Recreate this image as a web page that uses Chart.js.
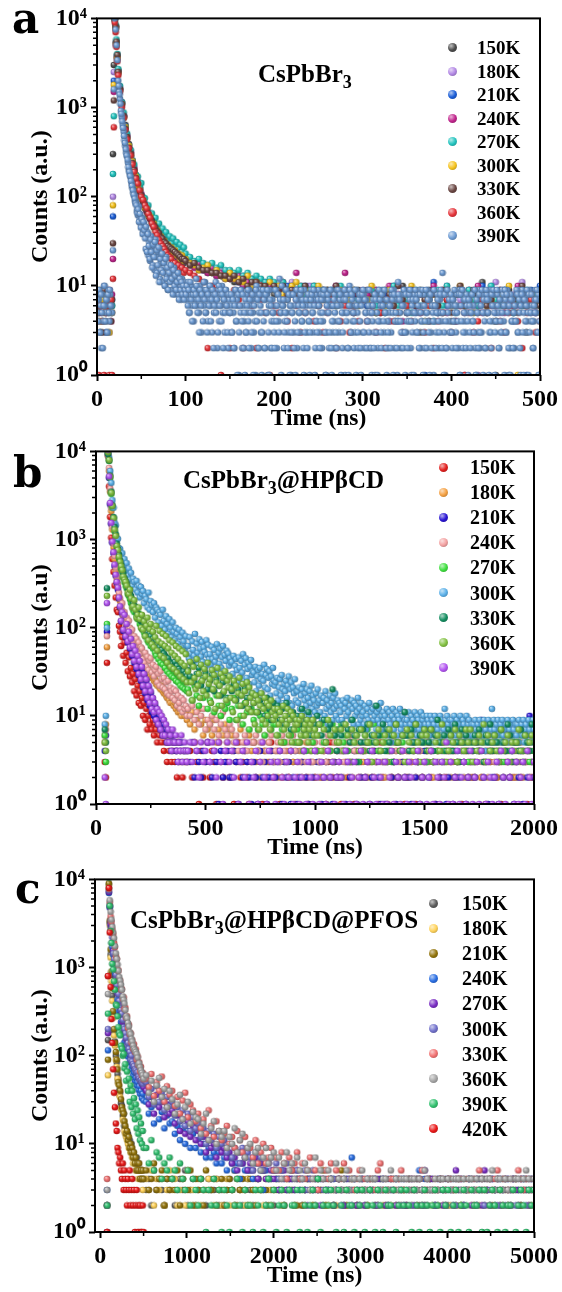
<!DOCTYPE html>
<html><head><meta charset="utf-8">
<script src="https://cdn.jsdelivr.net/npm/chart.js@4.4.0/dist/chart.umd.min.js"></script>
<style>
html,body{margin:0;padding:0;background:#fff}
body{width:562px;height:1292px;position:relative;overflow:hidden}
canvas{position:absolute;left:0}
.t{position:absolute;white-space:nowrap;line-height:1;color:#000;font-family:"Liberation Serif","Times New Roman",serif;font-weight:bold;z-index:2}
.letter{font-family:"DejaVu Serif",serif}
.sub{position:relative;top:0.38em;font-size:0.72em}
.dot{position:absolute;border-radius:50%;z-index:2}
</style></head><body>
<canvas id="ca" width="562" height="440" style="top:0px"></canvas>
<canvas id="cb" width="562" height="436" style="top:433px"></canvas>
<canvas id="cc" width="562" height="436" style="top:861px"></canvas>
<div id="ov"></div>
<script>
// time channels (ns) of the detector: start, end, step
function channels(a, b, step) { const r = []; for (let t = a; t <= b + 1e-9; t += step) r.push(Math.round(t * 100) / 100); return r; }

// ================= DATA =================
// ---- Panel a : CsPbBr3 ----
const labelsA = ['150K','180K','210K','240K','270K','300K','330K','360K','390K'];
const timeA = [...channels(0,16,2), ...channels(17,23,1), ...channels(24,100,2), ...channels(105,500,5)];
const timeA390 = [...channels(0,16,1), ...channels(17,23,1), ...channels(24,100,1), ...channels(101,500,1),
                  ...channels(0.5,15.5,1), ...channels(24.5,99.5,1), ...channels(100.5,499.5,1)];
const a150 = [7,5,3,8,6,4,9,5,6, 6,300,3000,11000,8200,5300,3700,
2600,1550,1150,780,640,450,390,280,250,190,175,130,125,95,96,74,75,60,62,50,52,43,44,36,38,31,34,27,30,26,28,23,25,21,22,19,21,18,20,
17,18,15,17,14,15,13,14,12,13,11,12,10,12,9,11,10,9,11,8,
10,9,7,10,8,9,7,8,10,6,9,7,8,6,9,7,8,5,9,7,
6,8,5,7,9,4,6,7,10,5,8,6,3,7,9,6,5,8,7,4,6,9,5,7,8,6,11,5,7,1,8,6,9,5,7,6,3,8,6,7];
const a180 = [5,8,6,4,7,9,5,3,7, 5,100,2500,10500,7600,5000,3500,
2400,1650,1050,820,560,490,350,320,230,215,160,150,112,108,86,84,68,67,58,56,48,47,40,41,34,36,30,33,28,30,25,28,23,26,21,24,20,22,19,
19,16,17,15,16,14,13,15,12,14,12,11,13,10,11,12,9,10,11,9,
8,10,9,11,7,9,8,10,7,8,9,6,8,10,7,9,6,8,7,9,
7,5,9,6,8,4,7,10,6,5,9,7,8,6,4,9,7,5,10,6,8,7,5,9,6,1,8,7,10,11,5,9,7,8,6,11,7,5,8,6];
const a210 = [6,4,9,5,7,3,8,6,5, 7,60,2000,9800,7900,5400,3800,
2550,1580,1120,790,620,460,380,290,255,195,170,138,122,100,92,78,72,63,60,52,50,44,43,38,36,33,32,29,29,27,27,25,24,22,23,21,21,19,20,
18,17,16,15,16,14,15,13,13,12,13,11,12,11,10,11,9,11,10,9,
9,8,10,8,9,7,10,8,9,7,8,9,6,8,7,9,7,8,6,8,
6,9,5,7,8,6,10,4,7,6,8,5,9,1,7,11,5,8,6,7,4,9,6,8,5,7,10,6,8,5,7,9,6,4,8,7,1,9,5,10];
const a240 = [4,7,5,8,6,5,7,9,4, 8,20,1500,10200,8000,5100,3600,
2500,1620,1080,800,590,480,360,310,240,205,160,145,118,105,88,82,69,66,56,55,46,47,40,40,35,34,31,31,28,27,26,26,23,23,21,22,20,21,19,
18,16,18,15,14,16,13,14,13,12,12,13,10,11,12,10,11,9,10,10,
9,11,8,9,14,10,8,9,7,8,9,7,8,10,7,14,6,9,8,7,
8,6,9,5,7,10,6,8,4,7,9,6,5,8,7,10,6,9,5,7,8,6,1,9,7,10,5,8,6,7,9,5,8,6,10,7,6,8,5,7];
const a270 = [5,6,8,4,7,6,5,8,6, 6,180,800,9500,8500,5800,4000,
2700,1750,1150,880,600,510,370,335,250,230,175,168,128,142,98,96,76,80,62,65,53,58,46,50,40,44,36,40,31,36,30,34,27,31,26,29,24,27,23,
21,19,20,18,17,18,16,17,15,15,14,15,13,14,12,13,12,11,12,11,
10,11,9,10,9,10,8,9,10,8,9,7,9,8,10,7,8,9,7,8,
7,9,6,8,5,7,10,6,8,7,5,9,6,8,7,4,9,6,10,7,5,8,6,9,7,6,8,5,10,7,6,9,8,5,7,6,9,7,8,6];
const a300 = [6,9,4,7,5,8,6,3,7, 5,80,1800,10000,7800,5200,3600,
2450,1560,1090,770,610,450,375,290,250,190,168,135,118,96,92,76,73,62,60,51,50,43,42,37,36,32,32,28,29,26,27,24,25,22,23,20,22,19,20,
18,17,15,16,17,14,15,13,12,14,12,12,11,13,10,11,10,9,11,9,
10,8,9,10,11,8,9,7,8,10,7,9,8,6,9,8,7,9,6,8,
7,10,5,8,6,9,7,5,8,6,10,7,9,4,6,8,7,5,9,6,8,10,6,7,5,9,8,6,7,4,8,6,10,7,1,9,6,8,7,5];
const a330 = [8,5,6,3,9,5,7,6,4, 7,30,1200,9700,8100,5500,3900,
2520,1610,1100,810,580,470,355,305,240,200,162,142,116,104,87,80,70,64,57,54,48,45,41,39,35,34,31,30,28,27,26,25,24,23,22,21,20,20,19,
17,18,16,15,15,14,14,13,13,12,13,11,12,10,11,11,10,10,9,10,
9,10,8,9,8,9,10,7,9,8,7,9,8,10,7,8,9,6,8,7,
9,6,8,5,7,8,6,10,7,5,9,6,8,7,4,8,6,9,7,5,8,10,6,7,9,5,8,6,7,4,9,6,8,7,5,10,6,8,7,6];
const a360 = [6,1,6,4,1,5,6,1,7, 1,12,600,9000,7000,4800,3300,
2300,1500,1000,760,560,440,350,290,230,190,160,140,118,100,92,80,74,64,58,50,46,40,37,33,30,28,26,24,22,21,20,18,18,16,17,15,16,14,15,
14,13,12,11,2,10,9,1,8,2,9,7,2,8,6,2,7,5,1,6,
5,7,4,2,6,3,5,8,4,6,3,5,7,2,4,6,3,5,4,7,
4,6,3,5,2,7,4,5,3,6,4,8,5,3,6,2,4,5,7,3,4,6,1,5,3,4,7,5,2,6,4,3,5,6,4,2,5,7,3,4];
const a390 = [9,5,7,3,6,2,8,4,10,6,5,7,3,9,4,8,6, 5,25,1600,10000,7500,5000,3400,
2000,1500,1250,920,780,640,540,430,370,310, 285,240,200,180,165,140,125,110,102,88,
88,70,62,78,55,60,48,58,40,50, 44,26,35,40,22,31,19,36,25,17, 28,15,33,21,14,24,26,12,18,22,
11,19,16,10,21,13,9,17,12,15, 9,14,11,16,8,12,10,13,8,11, 10,7,12,9,8,11,8,
9,7,11,5,8,10,6,9,4,8, 7,12,6,9,5,10,8,3,7,9, 6,11,5,8,4,7,10,6,9,3, 8,5,7,11,6,2,9,4,8,6, 10,5,7,3,9,6,8,2,7,5,
6,3,8,5,2,9,4,7,6,1, 8,5,9,2,6,4,1,3,8,5, 4,9,6,2,7,5,3,8,1,10, 7,2,5,9,3,1,8,4,2,7, 5,8,1,6,9,2,4,7,5,3,
9,6,2,8,4,12,5,1,7,6, 2,4,9,5,7,3,8,6,1,5, 8,3,6,1,9,2,7,5,3,8, 4,7,2,9,5,6,3,8,4,1, 6,9,5,3,7,1,8,4,6,9,
3,5,8,2,4,7,9,1,3,5, 7,2,6,9,1,3,4,8,2,6, 9,4,3,7,6,8,2,5,9,1, 5,8,2,1,10,6,3,7,5,2, 3,6,9,5,2,8,4,1,7,3,
8,2,5,7,4,9,3,2,6,1, 4,7,3,1,8,5,2,9,4,6, 2,9,6,3,5,7,1,4,2,5, 6,3,8,5,9,2,4,7,1,11, 7,5,2,8,3,6,9,1,3,4,
9,4,7,2,1,3,5,8,4,7, 3,8,5,9,2,4,6,1,8,2, 5,2,9,4,7,8,3,6,5,1, 4,6,3,8,5,2,7,9,4,14, 8,3,1,2,9,5,4,7,3,6,
2,7,4,5,3,8,6,2,9,1, 6,9,2,7,4,3,8,5,1,7, 3,5,8,4,6,9,2,1,5,3, 9,2,6,3,8,1,5,2,7,8, 5,7,3,9,2,6,4,8,1,6,
4,8,5,2,7,3,9,6,4,1, 7,3,9,6,1,2,8,4,7,5, 2,6,4,8,3,9,5,1,6,9, 8,5,7,3,4,6,1,9,5,4, 6,2,4,7,9,5,3,8,1,7,
7,4,9,3,8,5,2,6,10,4,7,3,8,5,9,6,
1750,1400,1100,850,700,590,480,400,340,290, 260,215,190,170,150,132,118,105,95,84,
80,66,72,52,64,45,56,38,52,42, 34,46,24,38,28,20,33,24,16,29, 21,31,13,25,17,27,11,20,15,23,
14,18,10,20,12,16,9,14,11,17, 12,8,15,10,13,9,11,14,7,12, 9,11,8,10,7,9,
8,10,6,9,5,11,7,4,8,9, 6,8,10,5,7,3,9,6,8,4, 11,7,5,9,3,8,6,10,4,7, 9,2,6,8,5,7,3,10,6,9, 4,8,2,7,5,9,6,3,8,5,
5,8,3,7,2,6,9,4,1,8, 3,6,9,4,8,2,5,7,3,6, 9,2,7,5,3,8,1,6,4,9, 4,7,2,8,6,5,3,9,7,2, 8,5,9,3,1,7,6,2,5,4,
2,9,4,6,8,3,7,5,10,6, 7,3,5,9,4,2,8,1,6,3, 5,8,2,4,7,9,3,6,5,8, 9,4,6,1,3,5,7,2,8,4, 3,7,8,5,9,6,2,4,3,7,
6,2,4,7,5,8,9,3,1,6, 8,5,3,9,2,4,6,7,5,3, 2,6,9,4,8,1,5,3,7,9, 7,4,5,2,6,9,3,8,4,5, 4,9,1,6,3,7,8,2,6,8,
9,3,7,5,2,4,6,9,5,2, 5,6,2,8,7,3,1,4,9,7, 3,8,6,4,9,5,2,7,3,6, 6,2,9,7,1,8,4,5,2,4, 8,7,4,3,6,2,9,3,8,5,
2,5,8,9,4,6,7,1,5,9, 7,3,6,2,8,5,4,9,3,6, 4,9,5,7,3,1,8,2,6,4, 9,6,2,5,7,4,3,8,5,2, 5,1,8,4,2,9,6,7,3,8,
3,7,4,9,6,2,5,4,8,1, 8,4,9,3,5,7,2,6,4,7, 6,2,5,8,4,3,9,1,7,5, 2,8,3,6,9,5,7,4,2,9, 7,5,1,4,3,8,6,9,5,3,
4,9,6,2,7,4,3,5,8,6, 9,3,8,5,2,6,1,7,4,2, 5,6,4,9,8,3,7,2,6,8, 3,1,7,4,6,9,5,8,3,5, 8,4,2,6,5,7,9,3,1,4];

// ---- Panel b : CsPbBr3@HPbCD ----
const labelsB = ['150K','180K','210K','240K','270K','300K','330K','360K','390K'];
const timeB = [...channels(40,415,5), ...channels(420,2000,10)];
const timeB300 = [...channels(40,415,5), ...channels(420,2000,4)];
const timeB360 = [...channels(40,415,5), ...channels(420,1000,5), ...channels(1010,2000,10)];
const b150 = [3,2,40,9000, 4000,1800,1050,600,430,300,220,160,150,105, 90,62,78,48,68,40,52,32,46,28, 35,24,30,19,26,17,22,14,19,13,
16,10,14,9,12,7,10,8,11,7, 9,6,8,7,5,8,6,7,5,6, 4,6,5,3,5,4,6,3,4,5, 3,4,2,5,3,4,3,2,4,3, 3,4,
3,4,2,5,3,1,4,2,3,5, 2,4,3,1,5,3,2,4,3,2, 4,1,3,5,2,3,4,2,1,3, 5,2,4,3,1,4,2,3,5,2,
3,4,1,2,5,3,2,4,3,1, 2,5,3,4,2,1,3,5,2,4, 3,2,4,1,3,5,2,3,4,2, 1,4,3,2,5,3,1,4,2,3,
4,2,5,3,2,4,3,1,5,2, 3,1,4,2,3,5,2,4,3,1, 2,4,3,5,1,3,4,2,3,4, 5,2,3,1,4,2,5,3,2,4,
3,4,2,3,5,1,3,4,2,3, 2,3,5,4,2,3,1,4,3,5, 4,2,3,1,5,3,4,2,3,2, 3,5,2,4,3,1,4,2,3];
const b180 = [5,8,60,8800, 6000,3500,2100,1300,820,600,440,350,285,230, 200,170,155,135,120,108,100,92,88,80, 76,70,68,62,58,56,54,50,48,45,
44,40,38,36,35,32,33,30,28,27, 28,25,26,23,22,24,21,20,22,19, 18,19,17,16,17,15,14,16,14,13, 14,12,13,11,12,11,10,12,11,10, 11,9,
10,8,11,7,9,12,8,6,9,7, 8,6,9,5,7,10,6,8,5,7, 6,4,5,3,7,4,5,3,6,4, 5,3,4,2,5,4,3,5,4,3,
4,2,3,5,3,4,2,4,3,5, 3,4,2,3,5,2,4,3,2,4, 2,3,4,3,2,4,3,5,2,3, 4,2,3,14,3,2,4,3,5,2,
3,4,2,3,4,2,3,4,2,3, 2,3,5,2,3,4,2,3,4,2, 4,2,3,4,2,3,5,2,3,4, 3,4,2,3,4,2,3,2,4,3,
2,3,4,2,3,5,2,4,3,2, 4,2,3,4,2,3,4,2,3,4, 3,2,4,3,2,4,3,5,2,3, 2,4,3,2,4,3,2,3,4];
const b210 = [4,6,90,9400, 5000,2500,1500,920,700,500,390,320,270,215, 170,118,145,92,135,78,105,68,88,58, 72,48,60,40,52,34,46,29,40,25,
34,21,29,18,25,15,21,13,18,11, 15,10,13,9,11,8,10,7,9,6, 8,6,7,5,7,5,6,4,6,5, 5,4,4,3,5,4,5,3,4,4, 4,3,
4,3,5,2,4,3,2,4,3,5, 3,2,4,3,1,4,2,3,4,2, 2,4,3,1,3,2,4,3,2,1, 3,2,1,4,2,3,1,2,4,3,
2,3,4,1,3,2,3,1,2,4, 1,2,3,4,2,1,3,2,4,3, 3,1,2,3,4,2,1,3,2,4, 2,4,1,3,2,3,4,1,3,2,
4,2,3,1,2,4,3,2,1,3, 1,3,4,2,3,1,2,4,3,2, 3,2,1,4,2,3,1,2,4,3, 2,4,3,1,3,2,4,3,1,2,
4,1,2,3,2,4,3,1,2,3, 3,2,8,4,9,2,3,1,4,2, 2,3,1,4,2,7,3,2,4,1, 3,2,4,1,3,2,10,3,2];
const b240 = [6,7,80,9000, 6500,3800,2300,1400,900,650,480,380,310,250, 215,170,190,140,150,112,130,95,120,100, 85,95,70,80,62,75,55,68,50,60,
58,44,40,52,36,47,33,42,45,31, 38,28,33,36,24,30,22,32,26,21, 27,20,24,18,25,17,21,19,16,20, 15,19,13,17,14,12,16,11,15,12, 13,10,
12,10,13,9,11,8,10,12,7,9, 8,10,7,9,6,8,11,7,6,8, 7,5,6,4,8,5,6,4,7,5, 5,6,4,5,3,6,4,5,6,3,
4,5,3,6,4,3,5,4,6,4, 5,3,4,6,3,5,4,3,5,4, 3,5,4,3,6,4,3,5,4,3, 4,3,5,4,3,6,4,3,5,4,
5,4,3,5,4,3,6,4,3,5, 3,4,9,3,5,4,3,5,4,6, 4,3,5,4,3,6,4,3,5,3, 5,4,3,6,4,3,5,4,3,4,
3,5,4,3,5,4,3,6,4,3, 4,3,6,4,3,5,4,3,5,4, 3,5,4,3,6,4,3,7,4,3, 4,3,5,4,3,4,5,3,4];
const b270 = [6,3,110,9600, 7800,5000,3300,2300,1700,1250,1080,820,740,620, 550,470,430,370,330,300,280,240,230,210, 190,200,160,150,170,135,125,145,110,118,
96,105,88,80,92,72,68,82,62,70, 58,66,52,48,60,44,55,40,50,38, 46,35,42,32,40,30,37,28,34,27, 32,25,30,24,28,22,27,21,25,20, 24,19,
20,26,15,22,17,13,24,16,19,12, 15,20,11,17,13,10,18,12,14,9, 12,16,9,13,10,8,14,11,7,12, 9,11,7,10,8,6,11,9,7,8,
8,6,9,7,5,8,10,6,7,5, 7,5,8,6,4,7,9,5,6,4, 6,8,5,9,7,4,8,6,7,5, 8,5,6,4,7,9,5,6,3,7,
4,6,7,5,3,8,5,4,6,7, 5,4,7,3,6,5,8,4,5,6, 3,6,4,7,5,4,6,8,5,3, 6,5,3,7,4,6,5,4,8,5,
4,7,5,3,6,8,4,5,3,6, 5,3,7,4,6,5,3,8,4,5, 7,4,5,6,3,5,8,4,6,5, 3,5,6,4,7,5,3,6,4];
const b300 = [8,10,100,9500, 8500,6000,4400,2800,2300,1550,1450,1000,1020,800, 780,620,700,500,600,430,540,390,470,350, 420,300,360,330,270,340,250,300,220,290,
240,260,190,230,210,170,250,160,200,180, 150,190,130,170,160,115,150,140,105,160, 120,95,135,110,85,125,100,78,115,90, 72,100,85,66,95,78,60,88,70,55, 80,62,
62,45,78,51,40,70,56,48,85,43,66,52,38,74,58,47,69,41,60,53,36,72,49,64,44,
50,38,61,44,33,56,41,47,65,30,52,39,58,35,46,62,32,49,42,55,29,51,37,45,40,
41,30,48,26,37,44,33,24,46,35,28,42,31,50,25,38,45,27,34,40,23,36,43,29,32,
31,24,36,19,28,33,22,35,26,18,30,25,38,21,29,34,20,27,32,17,28,23,35,25,22,
24,18,27,15,21,26,17,29,20,14,23,19,25,16,22,28,14,20,24,13,21,18,26,15,19,
19,14,21,12,17,20,11,23,15,18,13,20,16,10,19,14,22,12,17,15,11,18,13,20,14,
15,11,17,9,14,16,10,19,12,15,8,13,17,11,14,9,16,12,18,10,13,15,9,14,11,
13,9,15,8,12,14,10,16,11,7,13,9,15,12,8,14,10,13,11,16,8,12,9,14,10,
11,8,13,7,10,12,9,14,8,11,6,12,9,10,13,7,11,9,12,8,14,10,7,11,9,
10,7,12,6,9,11,8,5,10,12,7,9,8,11,6,10,9,12,7,8,10,6,11,9,8,
9,6,11,7,8,10,5,9,7,11,8,6,10,9,7,8,11,5,9,10,6,8,7,10,9,
8,6,10,7,9,5,8,10,6,9,7,8,5,10,9,6,8,7,12,9,6,10,8,7,9,
7,9,5,8,10,6,7,9,4,8,6,10,7,5,9,8,6,7,10,5,8,9,6,7,8,
6,8,5,9,7,4,8,6,9,5,7,8,6,9,4,7,8,5,9,6,8,7,12,5,9,
7,5,8,6,9,4,7,8,5,9,6,7,4,8,6,9,5,7,8,6,4,9,7,5,8,
6,8,5,9,7,4,8,6,9,5,7,8,6,4,9,7,5,8,6,9,7];
const b330 = [7,5,280,9300, 7900,5300,3500,2450,1800,1400,1150,900,780,680, 580,520,460,420,365,340,315,280,255,240, 230,210,185,178,172,150,142,138,134,120,
120,108,110,101,95,88,82,85,80,72, 75,68,65,70,64,58,60,53,56,50, 51,48,46,43,45,41,40,38,39,36, 41,35,37,33,34,32,31,30,32,29, 30,28,
33,28,38,24,30,35,22,27,31,20, 25,29,19,26,22,17,24,27,16,21, 19,23,15,20,17,13,21,16,12,18, 14,17,11,15,13,10,16,12,9,14,
11,13,9,12,8,14,10,7,11,9, 10,8,12,7,9,11,6,9,8,10, 8,6,9,5,7,8,20,6,4,7, 6,8,4,7,5,9,6,3,7,5,
7,5,8,4,6,5,13,6,4,8, 4,7,5,6,3,8,5,4,6,11, 6,4,7,5,8,3,6,5,7,4, 5,7,4,6,9,5,3,6,4,7,
6,4,8,5,3,7,5,6,4,5, 4,6,5,7,4,3,6,5,8,4, 6,5,3,7,5,4,8,6,3,5, 5,4,7,3,6,5,4,8,5];
const b360 = [5,4,230,9800, 8000,5200,3400,2400,1750,1300,1100,850,760,640, 560,500,450,380,350,330,300,250,240,270, 215,170,175,205,160,130,140,170,125,100,
140,95,118,80,105,130,72,96,110,65, 90,60,78,105,55,70,92,48,66,85, 45,62,80,40,58,72,36,52,68,34, 48,62,31,44,58,28,40,54,26,37, 50,24,
32,18,41,24,15,36,27,20,44,22,30,16,38,25,19,34,28,17,40,23,
26,14,33,20,29,12,24,35,17,22,30,13,27,19,32,15,25,21,28,16,
20,11,25,15,22,9,18,27,13,17,23,10,19,14,24,12,21,16,11,18,
14,8,17,11,15,7,13,18,9,12,16,8,14,10,13,7,15,11,9,12,
10,6,12,8,11,5,9,13,7,10,8,12,6,9,11,5,10,7,8,9,
8,5,9,6,10,4,7,8,6,9,5,7,8,4,9,6,7,
6,8,4,7,5,9,6,3,7,5, 5,7,4,8,6,3,7,5,6,4, 7,4,6,5,8,3,6,5,7,4, 5,6,3,7,4,6,8,5,4,6, 3,7,5,6,4,8,5,3,6,7,
6,4,7,3,5,6,4,8,5,3, 4,6,5,7,3,6,5,4,7,5, 7,3,5,4,6,5,8,3,6,4, 5,6,4,3,7,4,5,6,3,5, 4,5,7,4,3,6,4,5,6,3];
const b390 = [2,1,190,10500, 5200,2600,1550,950,720,520,400,330,285,220, 175,120,150,95,140,80,110,70,90,60, 75,50,62,42,55,36,48,30,42,26,
36,22,30,19,26,16,22,14,19,12, 16,11,14,9,12,8,11,7,10,6, 9,6,8,5,7,5,6,4,7,5, 5,6,4,3,5,4,6,3,4,5, 4,3,
4,5,3,5,4,2,5,3,4,5, 3,5,4,2,5,3,1,4,5,3, 4,2,5,1,3,4,2,5,1,3, 2,4,1,3,5,2,1,4,3,2,
1,3,4,2,1,3,2,4,1,2, 3,1,2,4,1,3,2,1,4,2, 1,3,2,1,4,2,3,1,2,3, 2,1,4,3,1,2,3,1,2,4,
1,2,3,1,4,2,1,3,2,1, 3,1,2,4,1,3,2,1,4,2, 1,3,2,1,3,4,1,2,3,1, 2,4,1,3,2,1,3,2,5,1,
3,1,2,4,1,2,3,1,2,4, 1,2,3,1,4,2,1,3,2,1, 2,3,1,4,2,1,3,2,4,1, 3,1,2,3,1,4,2,1,3];

// ---- Panel c : CsPbBr3@HPbCD@PFOS ----
const labelsC = ['150K','180K','210K','240K','270K','300K','330K','360K','390K','420K'];
const timeC = [...channels(80,500,10), ...channels(530,5000,30)];
const c150 = [2,150,8800, 3200,1400,820,480,300,190,145,100,84,62, 54,40,38,29,27,21,22,16,15,13, 12,13,10,11,9,10,8,8,7,7, 6,7,5,6,5,5,4,5,4,4,
3,4,2,5,3,4,3,2,4,3, 4,2,3,4,3,5,2,3,4,2, 3,4,3,2,4,3,3,4,2,3, 2,3,4,3,2,4,3,2,3,4, 3,2,3,4,3,3,2,4,3,2,
4,3,3,2,3,4,3,2,4,3, 2,3,4,3,3,2,4,3,2,3, 3,4,2,3,4,3,2,3,3,4, 4,2,3,3,2,4,3,3,4,2, 3,3,4,2,3,3,4,2,3,3,
2,4,3,3,4,2,3,3,2,4, 3,2,3,4,3,3,2,4,3,3, 4,3,2,3,3,4,3,2,3,4, 2,3,4,3,2,3,3,4,3,2, 3,4,3,3,2,4,3,3,4,3];
const c180 = [1,60,8500, 3000,1300,700,420,270,170,130,90,75,55, 48,36,34,25,24,19,18,14,13,12, 11,10,9,9,8,8,7,6,7,6, 5,6,5,4,5,4,4,5,3,4,
4,3,5,2,4,3,4,2,3,5, 3,4,2,3,4,2,5,3,3,2, 4,2,3,3,4,3,2,4,3,2, 3,4,2,3,2,4,3,3,2,4, 2,3,4,3,3,2,4,3,2,3,
4,3,2,3,4,3,3,2,4,3, 3,2,4,3,2,3,4,3,3,2, 2,4,3,2,3,3,4,2,3,4, 3,3,2,4,3,2,3,4,3,2, 4,2,3,3,2,4,3,3,2,3,
3,4,2,3,4,3,2,3,3,4, 2,3,3,4,2,3,4,2,3,3, 3,2,4,3,3,2,3,4,2,3, 4,3,2,3,3,4,2,3,3,2, 3,4,4,2,4,3,3,2,3,4];
const c210 = [2,90,9000, 3400,1600,900,580,320,200,140,110,90,70, 50,46,40,32,26,24,22,18,16,13, 14,11,12,9,10,8,9,7,8,6, 7,5,6,5,6,4,5,4,5,4,
5,3,4,6,3,4,5,2,4,3, 4,3,5,2,4,3,3,5,2,4, 3,4,2,5,3,3,4,2,3,4, 2,3,4,3,5,2,3,4,3,2, 4,3,2,4,3,5,3,2,4,3,
3,4,3,2,4,3,5,3,2,4, 2,3,4,3,2,4,3,3,5,2, 4,3,2,3,4,5,3,2,4,3, 3,2,4,3,3,2,4,3,2,3, 4,3,2,3,4,3,2,4,3,3,
2,4,3,3,2,4,3,2,3,4, 3,3,2,4,3,2,4,3,3,2, 4,2,3,3,4,3,2,3,4,3, 3,3,4,2,3,4,3,2,4,3, 2,3,4,3,2,3,4,3,2,3];
const c240 = [3,115,7000, 4800,3000,2500,1700,1400,950,860,640,600,430, 420,320,320,240,235,180,175,140,145,115, 122,98,104,84,88,70,76,60,65,52, 56,46,50,41,45,37,40,33,37,31,
30,22,26,17,28,19,23,15,21,17, 18,13,16,11,15,10,14,9,13,9, 11,8,10,7,9,7,8,6,8,6, 7,5,7,6,5,6,4,6,5,5, 5,4,6,4,5,3,5,4,4,5,
4,3,5,4,3,4,4,3,4,3, 4,3,4,4,3,4,3,4,4,3, 3,4,4,3,4,3,4,4,3,7, 4,3,4,4,3,4,3,4,4,3, 4,4,3,4,3,4,4,3,4,4,
3,4,4,3,4,5,3,4,4,3, 4,3,4,4,3,4,4,3,4,4, 3,4,4,3,4,4,3,4,4,3, 4,3,4,4,3,4,4,3,4,4, 3,4,4,3,4,4,3,4,4,3];
const c270 = [1,180,7200, 4900,3100,2700,1900,1550,1080,990,730,690,520, 500,380,380,290,300,235,245,190,200,155, 170,135,146,118,120,96,110,84,92,74, 82,66,73,58,65,53,60,48,54,44,
40,28,34,22,36,26,30,20,28,22, 24,17,21,14,19,13,18,12,16,11, 14,10,12,8,11,9,10,7,9,8, 9,7,8,6,7,5,8,6,7,5, 6,5,7,4,6,5,4,6,5,4,
5,3,4,5,3,4,4,3,5,4, 4,3,2,4,3,4,3,2,4,3, 3,4,2,3,4,3,2,4,3,2, 4,2,3,4,2,3,4,3,2,4, 3,4,2,3,4,3,2,4,3,2,
2,3,4,2,3,4,2,5,3,4, 4,2,3,4,2,3,4,3,2,5, 3,4,2,3,4,2,3,4,3,2, 5,3,2,4,3,4,2,3,4,3, 2,4,3,2,4,3,4,2,3,4];
const c300 = [2,200,7500, 5100,3400,2700,2200,1450,1250,980,830,630,560, 500,420,350,330,300,255,210,200,180,160, 132,140,120,110,90,100,86,80,76,70, 68,64,65,58,55,52,53,50,48,52,
50,34,42,28,45,30,38,24,34,27, 30,21,26,18,24,16,22,14,20,15, 17,12,15,10,14,11,13,9,12,10, 11,8,10,7,9,8,6,9,7,8, 7,5,8,6,7,5,6,4,7,5,
6,4,5,4,6,3,5,4,5,4, 4,5,3,4,5,3,4,4,3,4, 3,4,4,3,4,2,4,3,4,3, 4,3,2,4,3,4,3,3,4,2, 3,4,3,2,4,3,4,3,2,4,
4,3,2,4,3,4,3,2,4,3, 3,2,4,3,4,2,3,4,3,2, 4,3,2,3,4,3,4,2,3,4, 2,4,3,4,3,2,4,3,2,4, 3,4,2,4,3,4,2,3,4,3];
const c330 = [4,800,7800, 5500,3800,3300,2700,2400,1900,1700,1350,1250,950, 920,720,710,560,570,440,460,340,350,270, 280,205,225,175,180,140,150,120,135,110, 118,90,98,78,84,66,75,60,64,54,
55,44,62,35,50,40,58,30,45,36, 40,27,34,22,31,38,20,28,24,18, 22,15,19,13,24,16,12,18,14,11, 13,16,10,12,9,14,11,8,12,9, 9,7,11,6,8,10,6,7,9,5,
7,5,8,6,4,7,5,6,8,4, 6,4,5,7,4,5,3,6,4,5, 4,6,3,5,4,4,6,3,5,4, 3,4,5,3,4,3,4,4,3,5, 6,3,4,3,4,4,3,4,5,3,
4,3,4,4,3,4,5,3,4,3, 3,4,3,4,4,3,4,4,3,4, 4,4,3,4,3,4,4,3,5,4, 3,4,4,3,4,5,3,4,4,3, 4,3,4,5,4,3,4,4,3,4];
const c360 = [3,500,8000, 5800,4300,3500,2900,2500,2150,1750,1450,1250,1080, 920,780,710,640,560,470,430,390,330,280, 265,235,215,185,175,155,145,130,120,115, 110,104,95,80,82,74,68,64,60,55,
60,38,52,30,46,56,34,42,26,40, 32,22,28,36,19,26,30,17,23,20, 19,13,17,22,11,15,18,10,14,12, 14,9,12,10,15,8,11,13,7,9, 10,6,8,9,5,7,9,6,7,8,
5,7,4,6,8,5,6,4,7,5, 4,6,5,3,4,7,4,5,4,3, 5,4,3,6,4,3,4,5,3,4, 4,3,4,5,3,4,3,4,4,3, 3,4,4,3,5,3,4,3,4,4,
4,3,4,4,3,4,3,5,4,3, 3,4,3,4,4,3,4,3,4,4, 4,3,4,3,4,4,3,4,3,4, 3,4,4,5,3,4,4,3,4,3, 4,3,4,4,3,4,5,4,3,4];
const c390 = [2,300,10500, 5000,2600,1900,1100,950,700,560,380,370,280, 210,180,170,130,120,100,105,72,80,52, 66,40,55,30,46,26,40,22,33,19, 28,15,24,13,20,11,17,10,14,9,
9,6,11,5,8,7,4,6,5,7, 4,5,3,6,4,3,5,2,4,3, 2,4,3,1,3,2,4,2,3,1, 3,2,1,3,2,4,2,1,3,2, 2,1,3,2,3,1,2,4,2,3,
1,2,3,2,1,3,2,2,3,1, 3,2,1,2,3,2,4,1,2,3, 2,3,2,1,3,2,1,3,2,2, 1,3,2,3,1,2,3,2,1,3, 2,1,3,2,2,3,1,2,3,2,
3,2,1,3,2,1,2,3,2,1, 2,3,2,1,3,2,3,1,2,3, 1,2,3,2,1,3,2,2,3,1, 3,1,2,3,2,1,3,2,1,2, 2,3,1,2,3,2,1,3,2,3];
const c420 = [1,800,8000, 2500,600,260,140,70,38,26,17,14,9, 8,6,7,5,4,6,3,5,4,3, 2,4,3,5,2,3,4,2,3,1, 2,3,1,2,1,2,1,1,2,1];

// ---- axes ----
const ticksXA = [0,100,200,300,400,500], minorXA = [50,150,250,350,450];
const ticksXB = [0,500,1000,1500,2000], minorXB = [250,750,1250,1750];
const ticksXC = [0,1000,2000,3000,4000,5000], minorXC = [500,1500,2500,3500,4500];
const ticksY = [1,10,100,1000,10000];
const tickLabelsY = ['10\u2070','10\u00B9','10\u00B2','10\u00B3','10\u2074'];
const minorY = [2,3,4,5,6,7,8,9,20,30,40,50,60,70,80,90,200,300,400,500,600,700,800,900,2000,3000,4000,5000,6000,7000,8000,9000];

// ================= STYLE =================
const colorsA = ['#4d4d4d','#b48ae6','#1d5fd8','#c2268e','#25c5c0','#f6c420','#6b4844','#e6363c','#6e9cd4'];
const colorsB = ['#e3211f','#f5a244','#2a16d4','#f4a3a3','#40e040','#5db1e9','#168f62','#84c244','#b355f1'];
const colorsC = ['#5e5e5e','#ffd35c','#94760e','#2b6fe3','#7b2fc4','#7272cc','#f27373','#a6a6a6','#34c271','#ea1a1a'];

function mix(hex, to, t) {
  const a = parseInt(hex.slice(1), 16), b = parseInt(to.slice(1), 16);
  const ch = s => Math.round(((a >> s) & 255) * (1 - t) + ((b >> s) & 255) * t);
  return 'rgb(' + ch(16) + ',' + ch(8) + ',' + ch(0) + ')';
}
const cache = {};
function sphere(color, r) {
  const k = color + r;
  if (cache[k]) return cache[k];
  const s = Math.ceil(2 * r + 1);
  const c = document.createElement('canvas'); c.width = s; c.height = s;
  const g = c.getContext('2d');
  const cx = s / 2, cy = s / 2;
  const gr = g.createRadialGradient(cx - r * 0.35, cy - r * 0.4, r * 0.1, cx, cy, r);
  gr.addColorStop(0, mix(color, '#ffffff', 0.6));
  gr.addColorStop(0.45, color);
  gr.addColorStop(1, mix(color, '#000000', 0.3));
  g.fillStyle = gr; g.beginPath(); g.arc(cx, cy, r, 0, Math.PI * 2); g.fill();
  cache[k] = c; return c;
}

const framePlugin = {
  id: 'frame',
  afterDraw(chart, args, opts) {
    const {ctx, chartArea: a} = chart;
    const xs = chart.scales.x, ys = chart.scales.y;
    ctx.save();
    ctx.strokeStyle = '#000';
    ctx.lineWidth = 1.5;
    ctx.beginPath();
    opts.xMinor.forEach(v => { const p = xs.getPixelForValue(v); ctx.moveTo(p, a.bottom); ctx.lineTo(p, a.bottom + 4); });
    opts.yMinor.forEach(v => { const p = ys.getPixelForValue(v); ctx.moveTo(a.left, p); ctx.lineTo(a.left - 4, p); });
    ctx.stroke();
    ctx.lineWidth = 2;
    ctx.strokeRect(a.left, a.top, a.right - a.left, a.bottom - a.top);
    ctx.restore();
  }
};

const F = s => ({family: 'Liberation Serif', size: s, weight: 'bold'});
function build(id, timesList, series, labels, colors, L) {
  const n = series.length;
  const datasets = series.map((vals, i) => {
    const times = timesList[i];
    return {
      label: labels[i],
      data: times.map((t, k) => ({x: t, y: vals[k]})).filter(p => typeof p.y === 'number' && p.y > 0),
      pointStyle: sphere(colors[i], 3.3),
      pointRadius: 3.3, pointHoverRadius: 3.3, pointBorderWidth: 0,
      backgroundColor: colors[i], borderColor: colors[i],
      showLine: false, order: n - 1 - i, clip: 0
    };
  });
  const grid = {display: true, drawOnChartArea: false, drawTicks: true, tickLength: 6, tickWidth: 2, tickColor: '#000', color: '#000'};
  return new Chart(document.getElementById(id), {
    type: 'scatter',
    data: {datasets},
    options: {
      responsive: false, animation: false, events: [], devicePixelRatio: 1,
      layout: {padding: {left: 0, right: L.right, top: 18, bottom: 0}},
      plugins: {legend: {display: false}, tooltip: {enabled: false}, frame: {xMinor: L.xMinor, yMinor: minorY}},
      scales: {
        x: {type: 'linear', position: 'bottom', min: L.xMin, max: L.xMax,
          afterBuildTicks: s => { s.ticks = L.xTicks.map(v => ({value: v})); },
          afterFit: s => { s.height = 65; },
          ticks: {callback: v => String(v), font: F(24), color: '#000', padding: 4, maxRotation: 0, autoSkip: false},
          grid: grid, border: {display: false},
          title: {display: true, text: 'Time (ns)', font: F(23.5), color: '#000', padding: {top: 0, bottom: 7}}},
        y: {type: 'logarithmic', position: 'left', min: 1, max: 10000,
          afterBuildTicks: s => { s.ticks = ticksY.map(v => ({value: v})); },
          afterFit: s => { s.width = L.left; },
          ticks: {callback: v => { const i = ticksY.indexOf(v); return i >= 0 ? tickLabelsY[i] : ''; }, font: F(24), color: '#000', padding: 4, autoSkip: false},
          grid: grid, border: {display: false},
          title: {display: true, text: L.yTitle, font: F(24), color: '#000', padding: {top: 26, bottom: 0}}}
      }
    },
    plugins: [framePlugin]
  });
}

build('ca', [timeA,timeA,timeA,timeA,timeA,timeA,timeA,timeA,timeA390], [a150,a180,a210,a240,a270,a300,a330,a360,a390], labelsA, colorsA,
  {left: 97, right: 21, xMin: 0, xMax: 500, xTicks: ticksXA, xMinor: minorXA, yTitle: 'Counts (a.u.)'});
build('cb', [timeB,timeB,timeB,timeB,timeB,timeB300,timeB,timeB360,timeB], [b150,b180,b210,b240,b270,b300,b330,b360,b390], labelsB, colorsB,
  {left: 96, right: 25, xMin: 0, xMax: 2000, xTicks: ticksXB, xMinor: minorXB, yTitle: 'Counts (a.u)'});
build('cc', labelsC.map(() => timeC), [c150,c180,c210,c240,c270,c300,c330,c360,c390,c420], labelsC, colorsC,
  {left: 95, right: 25, xMin: -60, xMax: 5000, xTicks: ticksXC, xMinor: minorXC, yTitle: 'Counts (a.u.)'});

// ================= overlay text =================
const ov = document.getElementById('ov');
function txt(html, left, top, size, cls) {
  const d = document.createElement('div');
  d.className = 't' + (cls ? ' ' + cls : '');
  d.style.left = left + 'px'; d.style.top = top + 'px'; d.style.fontSize = size + 'px';
  d.innerHTML = html; ov.appendChild(d);
}
function legend(labels, colors, L) {
  labels.forEach((lab, i) => {
    const cy = L.y0 + i * L.dy, r = L.r;
    const m = document.createElement('div'); m.className = 'dot';
    m.style.left = (L.mx - r) + 'px'; m.style.top = (cy - r) + 'px';
    m.style.width = (2 * r) + 'px'; m.style.height = (2 * r) + 'px';
    m.style.background = 'radial-gradient(circle at 35% 32%, ' + mix(colors[i], '#ffffff', 0.65) + ' 0%, ' + colors[i] + ' 50%, ' + mix(colors[i], '#000000', 0.35) + ' 100%)';
    ov.appendChild(m);
    txt(lab, L.tx, cy - L.size / 2, L.size);
  });
}
legend(labelsA, colorsA, {mx: 452, tx: 477, y0: 47.5, dy: 23.5, size: 19, r: 4.5});
legend(labelsB, colorsB, {mx: 443, tx: 470, y0: 467, dy: 25.1, size: 20, r: 4.5});
legend(labelsC, colorsC, {mx: 433, tx: 462, y0: 903, dy: 25.1, size: 20, r: 4.5});

txt('CsPbBr<span class="sub">3</span>', 258, 73 - 12.5, 25);
txt('CsPbBr<span class="sub">3</span>@HP\u03B2CD', 183, 479 - 12.5, 25);
txt('CsPbBr<span class="sub">3</span>@HP\u03B2CD@PFOS', 130, 919 - 12.5, 25);

txt('a', 12, -2.5, 42, 'letter');
txt('b', 13, 451.5, 42, 'letter');
txt('c', 15, 867.5, 42, 'letter');
</script></body></html>
